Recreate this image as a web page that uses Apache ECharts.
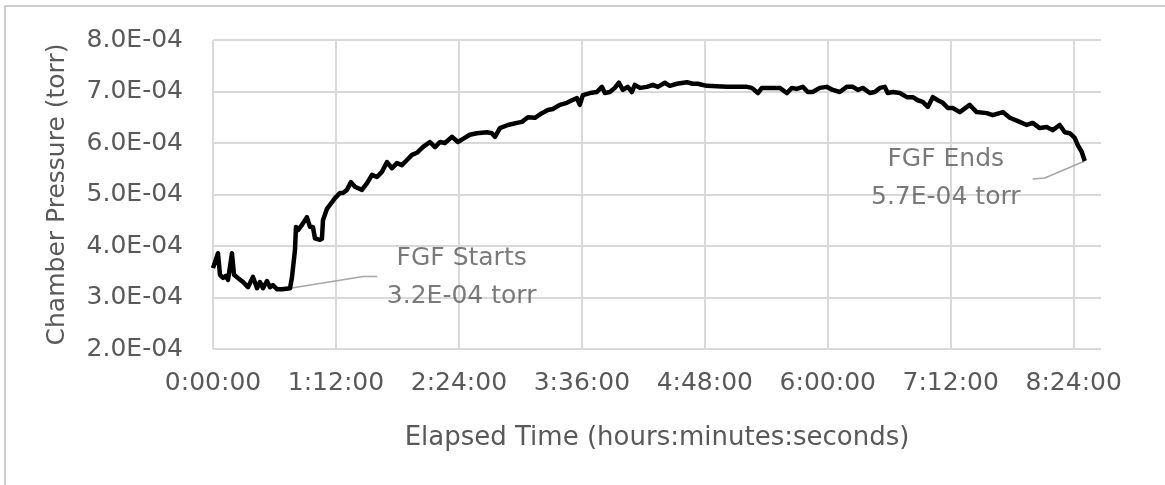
<!DOCTYPE html>
<html>
<head>
<meta charset="utf-8">
<script src="https://cdn.jsdelivr.net/npm/echarts@6/dist/echarts.min.js"></script>
<style>
html, body { margin: 0; padding: 0; background: #fff; }
#chart { width: 1165px; height: 485px; }
</style>
</head>
<body>
<div id="chart"></div>
<script>
// elapsed time in minutes, pressure in units of 1E-04 torr
var elapsedMinutes = [
    0, 2.9, 4.1, 5.9, 7.6, 8.8, 11.1, 12.3, 14.6, 17.6, 20.5, 23.4, 25.8, 27.5, 29.3, 31.6, 33.4, 35.1, 37.5, 40.4,
    45.1, 46.2, 48.0, 48.6, 49.8, 52.1, 55.0, 56.8, 58.5, 59.7, 62.6, 63.8, 64.4, 66.7, 69.7, 71.4, 74.3, 76.1, 78.4, 80.8,
    83.1, 87.2, 90.2, 93.1, 96.0, 98.9, 101.9, 104.8, 107.7, 110.6, 113.6, 116.5, 119.4, 122.9, 127.0, 130.0, 132.9, 135.8, 139.9, 143.4,
    146.4, 150.4, 154.5, 160.4, 163.3, 165.1, 168.0, 172.7, 178.0, 180.9, 184.4, 188.5, 192.6, 196.1, 199.0, 203.1, 207.2, 210.2, 213.1, 214.8,
    216.6, 220.7, 224.8, 227.7, 229.5, 232.4, 235.3, 237.7, 240.0, 242.9, 245.3, 247.0, 250.0, 254.1, 257.6, 260.5, 264.6, 267.5, 271.6, 277.5,
    281.0, 283.9, 286.3, 289.2, 300.9, 312.6, 315.5, 319.1, 321.4, 326.1, 331.9, 336.0, 339.0, 341.9, 345.4, 348.3, 351.2, 355.3, 359.4, 363.0,
    367.0, 371.1, 374.7, 377.6, 380.5, 384.6, 387.5, 390.5, 393.4, 395.1, 398.1, 402.2, 406.3, 409.8, 412.7, 415.6, 418.6, 421.5, 424.4, 427.4,
    430.3, 433.2, 437.3, 443.1, 447.2, 453.1, 456.6, 462.5, 466.6, 472.4, 476.5, 480.0, 484.1, 488.2, 491.7, 495.8, 498.8, 501.7, 504.6, 506.4,
    508.7, 510.5
];
var pressureE4 = [
    3.57, 3.86, 3.44, 3.38, 3.42, 3.34, 3.86, 3.44, 3.38, 3.30, 3.20, 3.40, 3.18, 3.30, 3.18, 3.32, 3.20, 3.24, 3.16, 3.16,
    3.18, 3.38, 3.92, 4.37, 4.31, 4.41, 4.56, 4.37, 4.37, 4.15, 4.12, 4.14, 4.50, 4.72, 4.85, 4.93, 5.03, 5.03, 5.09, 5.24,
    5.15, 5.09, 5.22, 5.38, 5.34, 5.44, 5.63, 5.51, 5.61, 5.57, 5.67, 5.77, 5.81, 5.92, 6.02, 5.92, 6.02, 6.00, 6.12, 6.02,
    6.08, 6.16, 6.19, 6.21, 6.19, 6.12, 6.29, 6.35, 6.39, 6.41, 6.50, 6.49, 6.58, 6.64, 6.66, 6.74, 6.78, 6.83, 6.87, 6.74,
    6.93, 6.97, 6.99, 7.09, 6.97, 6.99, 7.07, 7.17, 7.03, 7.09, 6.99, 7.13, 7.07, 7.09, 7.13, 7.09, 7.17, 7.11, 7.15, 7.18,
    7.15, 7.15, 7.13, 7.11, 7.09, 7.09, 7.07, 6.97, 7.07, 7.07, 7.07, 6.97, 7.07, 7.05, 7.09, 6.99, 6.99, 7.07, 7.09, 7.03,
    6.99, 7.09, 7.09, 7.03, 7.07, 6.97, 6.99, 7.07, 7.09, 6.97, 6.99, 6.97, 6.89, 6.89, 6.83, 6.80, 6.70, 6.89, 6.83, 6.78,
    6.68, 6.68, 6.60, 6.74, 6.60, 6.58, 6.54, 6.60, 6.49, 6.41, 6.35, 6.39, 6.29, 6.31, 6.25, 6.35, 6.21, 6.19, 6.10, 5.96,
    5.83, 5.65
];

// callouts: leader line points and text anchor (same units as above)
var startLeaderMinutes = [45.1, 88.0, 96.2];
var startLeaderPressure = [3.18, 3.41, 3.41];
var startNoteAt = [145.6, 3.39];
var startNoteText = 'FGF Starts\n3.2E-04 torr';

var endLeaderMinutes = [510.5, 487.1, 480.0];
var endLeaderPressure = [5.65, 5.32, 5.30];
var endNoteAt = [429.1, 5.32];
var endNoteText = 'FGF Ends\n5.7E-04 torr';

function pairs(xs, ys) {
    var out = [];
    for (var i = 0; i < xs.length; i++) {
        out.push([xs[i], ys[i]]);
    }
    return out;
}

function fmtTime(m) {
    var h = Math.floor(m / 60);
    var mm = Math.round(m - h * 60);
    return h + ':' + (mm < 10 ? '0' : '') + mm + ':00';
}

var FONT = 'DejaVu Sans';
var TEXT = '#595959';
var GRID = '#d9d9d9';

var chart = echarts.init(document.getElementById('chart'));
var options = {
    animation: false,
    textStyle: {fontFamily: FONT},
    grid: {left: 213, right: 64, top: 40, bottom: 136},
    graphic: [{
        type: 'rect',
        shape: {x: 5, y: 6, width: 1170, height: 490},
        style: {fill: 'none', stroke: '#bfbfbf', lineWidth: 1.5},
        silent: true
    }],
    xAxis: {
        type: 'value',
        min: 0,
        max: 520,
        interval: 72,
        name: 'Elapsed Time (hours:minutes:seconds)',
        nameLocation: 'middle',
        nameGap: 76,
        nameTextStyle: {color: TEXT, fontSize: 26, fontFamily: FONT},
        axisLine: {show: false},
        axisTick: {show: false},
        axisLabel: {
            color: TEXT, fontSize: 25, fontFamily: FONT, margin: 22,
            showMaxLabel: false,
            formatter: function (v) { return v % 72 === 0 ? fmtTime(v) : ''; }
        },
        splitLine: {show: true, showMaxLine: false, lineStyle: {color: GRID, width: 2}}
    },
    yAxis: {
        type: 'value',
        min: 2,
        max: 8,
        interval: 1,
        name: 'Chamber Pressure (torr)',
        nameLocation: 'middle',
        nameGap: 143,
        nameTextStyle: {color: TEXT, fontSize: 25, fontFamily: FONT},
        axisLine: {show: false},
        axisTick: {show: false},
        axisLabel: {
            color: TEXT, fontSize: 25, fontFamily: FONT, margin: 30,
            formatter: function (v) { return v.toFixed(1) + 'E-04'; }
        },
        splitLine: {show: true, lineStyle: {color: GRID, width: 2}}
    },
    series: [
        {
            name: 'Chamber Pressure',
            type: 'line',
            data: pairs(elapsedMinutes, pressureE4),
            showSymbol: false,
            lineStyle: {color: '#000', width: 4.5, join: 'round'},
            z: 3
        },
        {
            type: 'line',
            data: pairs(startLeaderMinutes, startLeaderPressure),
            showSymbol: false,
            lineStyle: {color: '#a6a6a6', width: 1.5},
            z: 2
        },
        {
            type: 'line',
            data: pairs(endLeaderMinutes, endLeaderPressure),
            showSymbol: false,
            lineStyle: {color: '#a6a6a6', width: 1.5},
            z: 2
        },
        {
            type: 'scatter',
            symbolSize: 0,
            data: [startNoteAt, endNoteAt],
            label: {
                show: true,
                position: 'inside',
                align: 'center',
                verticalAlign: 'middle',
                color: TEXT,
                fontSize: 25,
                fontFamily: FONT,
                lineHeight: 38,
                formatter: function (p) { return p.dataIndex === 0 ? startNoteText : endNoteText; }
            },
            z: 4
        }
    ]
};
chart.setOption(options);
</script>
</body>
</html>
